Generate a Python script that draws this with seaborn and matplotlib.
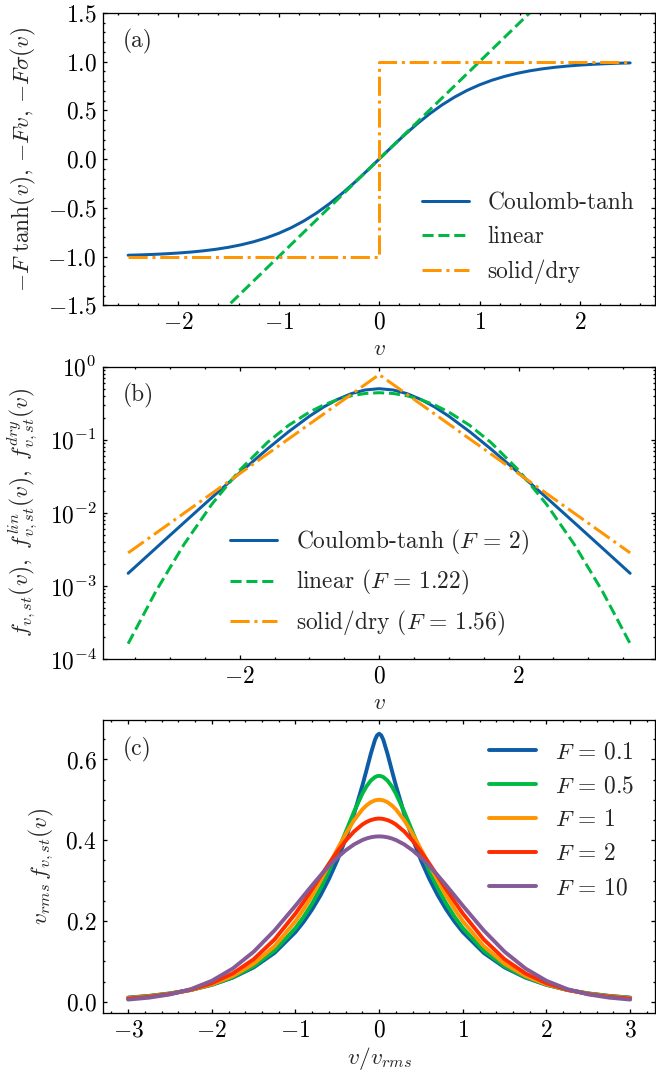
import matplotlib

matplotlib.use("Agg")

import matplotlib.pyplot as plt
import seaborn as sns
from matplotlib.ticker import AutoMinorLocator, MultipleLocator

# colours of the "science" cycle
BLUE = "#0C5DA5"
GREEN = "#00B945"
ORANGE = "#FF9500"
RED = "#FF2C00"
PURPLE = "#845B97"

# ---- panel (a): friction laws -------------------------------------------
V_A = [-2.5, -2.375, -2.25, -2.125, -2.0, -1.875, -1.75, -1.625, -1.5, -1.375, -1.25,
       -1.125, -1.0, -0.875, -0.75, -0.625, -0.5, -0.375, -0.25, -0.125, 0.0,
       0.125, 0.25, 0.375, 0.5, 0.625, 0.75, 0.875, 1.0, 1.125, 1.25, 1.375, 1.5,
       1.625, 1.75, 1.875, 2.0, 2.125, 2.25, 2.375, 2.5]
TANH_A = [-0.9866, -0.9829, -0.9780, -0.9719, -0.9640, -0.9541, -0.9414, -0.9254,
          -0.9051, -0.8798, -0.8483, -0.8093, -0.7616, -0.7039, -0.6351, -0.5546,
          -0.4621, -0.3584, -0.2449, -0.1244, 0.0, 0.1244, 0.2449, 0.3584, 0.4621,
          0.5546, 0.6351, 0.7039, 0.7616, 0.8093, 0.8483, 0.8798, 0.9051, 0.9254,
          0.9414, 0.9541, 0.9640, 0.9719, 0.9780, 0.9829, 0.9866]
V_LIN_A = [-2.5, 2.5]
LIN_A = [-2.5, 2.5]
V_DRY_A = [-2.5, 0.0, 0.0, 2.5]
DRY_A = [-1.0, -1.0, 1.0, 1.0]
LABELS_A = ["Coulomb-tanh", "linear", "solid/dry"]

# ---- panel (b): stationary distributions (log scale) --------------------
V_B = [-3.6, -3.2, -2.8, -2.4, -2.0, -1.6, -1.3, -1.0, -0.8, -0.6, -0.4, -0.2, 0.0,
       0.2, 0.4, 0.6, 0.8, 1.0, 1.3, 1.6, 2.0, 2.4, 2.8, 3.2, 3.6]
COULOMB_B = [0.001491, 0.003312, 0.007341, 0.01619, 0.03533, 0.07526, 0.1287, 0.2100,
             0.2795, 0.3558, 0.4278, 0.4805, 0.5000, 0.4805, 0.4278, 0.3558, 0.2795,
             0.2100, 0.1287, 0.07526, 0.03533, 0.01619, 0.007341, 0.003312, 0.001491]
LINEAR_B = [0.0001626, 0.0008536, 0.003693, 0.01313, 0.03841, 0.09246, 0.1572, 0.2394,
            0.2982, 0.3538, 0.3997, 0.4300, 0.4406, 0.4300, 0.3997, 0.3538, 0.2982,
            0.2394, 0.1572, 0.09246, 0.03841, 0.01313, 0.003693, 0.0008536, 0.0001626]
V_DRY_B = [-3.6, 0.0, 3.6]
DRY_B = [0.002838, 0.78, 0.002838]
LABELS_B = [r"Coulomb-tanh ($F\,=\,2$)", r"linear ($F\,=\,1.22$)",
            r"solid/dry ($F\,=\,1.56$)"]

# ---- panel (c): rescaled distributions for several F --------------------
U_C = [-3.0, -2.75, -2.5, -2.25, -2.0, -1.75, -1.5, -1.25, -1.0, -0.9, -0.8, -0.7,
       -0.6, -0.5, -0.4, -0.3, -0.2, -0.15, -0.1, -0.05, -0.025, 0.0, 0.025, 0.05,
       0.1, 0.15, 0.2, 0.3, 0.4, 0.5, 0.6, 0.7, 0.8, 0.9, 1.0, 1.25, 1.5, 1.75, 2.0,
       2.25, 2.5, 2.75, 3.0]
F_01 = [0.0101, 0.0145, 0.0206, 0.0293, 0.0418, 0.0596, 0.0849, 0.1210, 0.1725, 0.1987,
        0.2289, 0.2638, 0.3040, 0.3502, 0.4035, 0.4649, 0.5355, 0.5742, 0.6137, 0.6484,
        0.6595, 0.6636, 0.6595, 0.6484, 0.6137, 0.5742, 0.5355, 0.4649, 0.4035, 0.3502,
        0.3040, 0.2638, 0.2289, 0.1987, 0.1725, 0.1210, 0.0849, 0.0596, 0.0418, 0.0293,
        0.0206, 0.0145, 0.0101]
F_05 = [0.0097, 0.0140, 0.0202, 0.0292, 0.0421, 0.0608, 0.0877, 0.1265, 0.1823, 0.2108,
        0.2436, 0.2811, 0.3234, 0.3702, 0.4203, 0.4705, 0.5155, 0.5336, 0.5475, 0.5562,
        0.5584, 0.5592, 0.5584, 0.5562, 0.5475, 0.5336, 0.5155, 0.4705, 0.4203, 0.3702,
        0.3234, 0.2811, 0.2436, 0.2108, 0.1823, 0.1265, 0.0877, 0.0608, 0.0421, 0.0292,
        0.0202, 0.0140, 0.0097]
F_1 = [0.0090, 0.0133, 0.0197, 0.0292, 0.0431, 0.0637, 0.0939, 0.1376, 0.1993, 0.2297,
       0.2633, 0.2998, 0.3383, 0.3775, 0.4153, 0.4492, 0.4763, 0.4864, 0.4939, 0.4985,
       0.4996, 0.5000, 0.4996, 0.4985, 0.4939, 0.4864, 0.4763, 0.4492, 0.4153, 0.3775,
       0.3383, 0.2998, 0.2633, 0.2297, 0.1993, 0.1376, 0.0939, 0.0637, 0.0431, 0.0292,
       0.0197, 0.0133, 0.0090]
F_2 = [0.0078, 0.0122, 0.0191, 0.0296, 0.0458, 0.0699, 0.1051, 0.1543, 0.2184, 0.2481,
       0.2790, 0.3106, 0.3418, 0.3717, 0.3987, 0.4215, 0.4389, 0.4452, 0.4497, 0.4525,
       0.4532, 0.4535, 0.4532, 0.4525, 0.4497, 0.4452, 0.4389, 0.4215, 0.3987, 0.3717,
       0.3418, 0.3106, 0.2790, 0.2481, 0.2184, 0.1543, 0.1051, 0.0699, 0.0458, 0.0296,
       0.0191, 0.0122, 0.0078]
F_10 = [0.0054, 0.0101, 0.0181, 0.0312, 0.0518, 0.0821, 0.1237, 0.1766, 0.2377, 0.2632,
        0.2885, 0.3129, 0.3359, 0.3567, 0.3748, 0.3895, 0.4004, 0.4043, 0.4071, 0.4088,
        0.4092, 0.4093, 0.4092, 0.4088, 0.4071, 0.4043, 0.4004, 0.3895, 0.3748, 0.3567,
        0.3359, 0.3129, 0.2885, 0.2632, 0.2377, 0.1766, 0.1237, 0.0821, 0.0518, 0.0312,
        0.0181, 0.0101, 0.0054]
LABELS_C = [r"$F\,=\,0.1$", r"$F\,=\,0.5$", r"$F\,=\,1$", r"$F\,=\,2$", r"$F\,=\,10$"]


def style_axes(ax):
    ax.tick_params(which="both", direction="in", top=True, right=True, width=0.5, pad=2.5)
    ax.tick_params(which="major", length=1.7)
    ax.tick_params(which="minor", length=0.9)
    for spine in ax.spines.values():
        spine.set_linewidth(0.5)


def main() -> None:
    sns.set_style("ticks")
    plt.rcParams.update({
        "font.family": ["cmr10"],
        "mathtext.fontset": "cm",
        "axes.formatter.use_mathtext": True,
        "font.size": 9,
        "axes.labelsize": 9,
        "xtick.labelsize": 9,
        "ytick.labelsize": 9,
        "legend.fontsize": 9,
        "axes.edgecolor": "black",
        "xtick.color": "black",
        "ytick.color": "black",
    })

    fig = plt.figure(figsize=(3.5, 5.787))
    left, width, height = 0.157, 0.8415, 0.2695
    ax_a = fig.add_axes([left, 0.7186, width, height])
    ax_b = fig.add_axes([left, 0.3925, width, height])
    ax_c = fig.add_axes([left, 0.0665, width, height])

    # (a)
    lw = 1.15
    sns.lineplot(x=V_A, y=TANH_A, ax=ax_a, color=BLUE, lw=lw, label=LABELS_A[0],
                 estimator=None, sort=False)
    sns.lineplot(x=V_LIN_A, y=LIN_A, ax=ax_a, color=GREEN, lw=lw, linestyle="--",
                 label=LABELS_A[1], estimator=None, sort=False)
    sns.lineplot(x=V_DRY_A, y=DRY_A, ax=ax_a, color=ORANGE, lw=lw, linestyle="-.",
                 label=LABELS_A[2], estimator=None, sort=False)
    ax_a.set_ylim(-1.5, 1.5)
    ax_a.xaxis.set_major_locator(MultipleLocator(1))
    ax_a.yaxis.set_major_locator(MultipleLocator(0.5))
    ax_a.set_xlabel(r"$v$", labelpad=1.5)
    ax_a.set_ylabel(r"$-F\ \tanh(v),\, {-}Fv,\, {-}F\sigma(v)$")
    ax_a.yaxis.set_label_coords(-0.118, 0.5)
    ax_a.legend(loc="lower right", frameon=False)
    ax_a.text(0.036, 0.945, "(a)", transform=ax_a.transAxes, va="top", ha="left")

    # (b)
    sns.lineplot(x=V_B, y=COULOMB_B, ax=ax_b, color=BLUE, lw=lw, label=LABELS_B[0],
                 estimator=None, sort=False)
    sns.lineplot(x=V_B, y=LINEAR_B, ax=ax_b, color=GREEN, lw=lw, linestyle="--",
                 label=LABELS_B[1], estimator=None, sort=False)
    sns.lineplot(x=V_DRY_B, y=DRY_B, ax=ax_b, color=ORANGE, lw=lw, linestyle="-.",
                 label=LABELS_B[2], estimator=None, sort=False)
    ax_b.set_yscale("log")
    ax_b.set_ylim(1e-4, 1)
    ax_b.xaxis.set_major_locator(MultipleLocator(2))
    ax_b.set_xlabel(r"$v$", labelpad=1.5)
    ax_b.set_ylabel(r"$f_{v,st}(v),\ f^{lin}_{v,st}(v),\ f^{dry}_{v,st}(v)$")
    ax_b.yaxis.set_label_coords(-0.115, 0.5)
    ax_b.legend(loc="lower center", frameon=False)
    ax_b.text(0.036, 0.945, "(b)", transform=ax_b.transAxes, va="top", ha="left")

    # (c)
    for values, colour, label in zip([F_01, F_05, F_1, F_2, F_10],
                                     [BLUE, GREEN, ORANGE, RED, PURPLE], LABELS_C):
        sns.lineplot(x=U_C, y=values, ax=ax_c, color=colour, lw=1.5, label=label,
                     estimator=None, sort=False)
    ax_c.xaxis.set_major_locator(MultipleLocator(1))
    ax_c.yaxis.set_major_locator(MultipleLocator(0.2))
    ax_c.set_xlabel(r"$v/v_{rms}$", labelpad=1.5)
    ax_c.set_ylabel(r"$v_{rms}\,f_{v,st}(v)$")
    ax_c.yaxis.set_label_coords(-0.085, 0.5)
    ax_c.legend(loc="upper right", frameon=False)
    ax_c.text(0.036, 0.945, "(c)", transform=ax_c.transAxes, va="top", ha="left")

    for ax in (ax_a, ax_b, ax_c):
        ax.xaxis.set_minor_locator(AutoMinorLocator())
        if ax is not ax_b:
            ax.yaxis.set_minor_locator(AutoMinorLocator())
        style_axes(ax)

    fig.savefig("out.png", dpi=187.5)
    plt.close(fig)


if __name__ == "__main__":
    main()
